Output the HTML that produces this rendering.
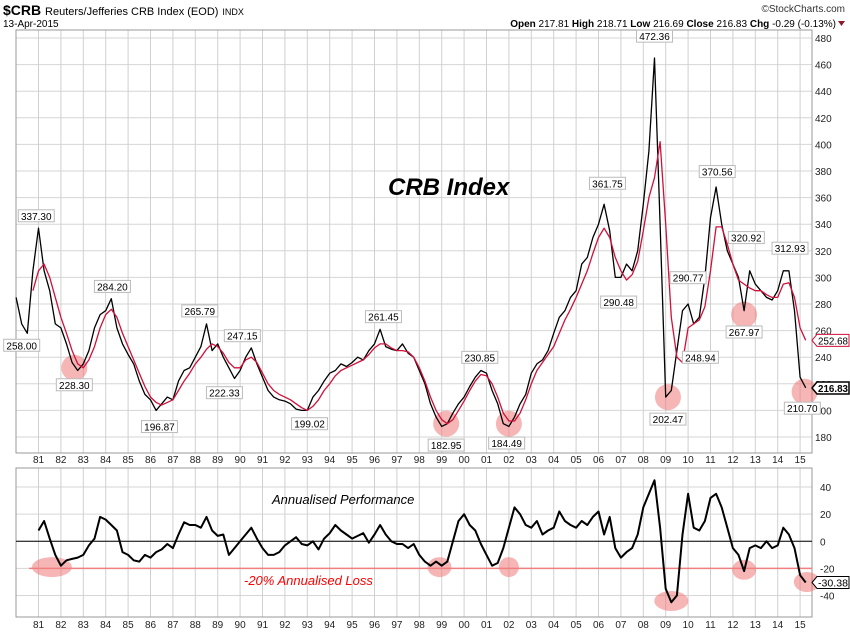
<!DOCTYPE html>
<html><head><meta charset="utf-8"><style>
body{margin:0;background:#fff;}
svg{display:block;font-family:"Liberation Sans",sans-serif;}
</style></head><body>
<svg id="chart" width="850" height="633" viewBox="0 0 850 633">
<text x="3" y="15" font-size="14" font-weight="bold">$CRB <tspan font-size="11" font-weight="normal">Reuters/Jefferies CRB Index (EOD)</tspan> <tspan font-size="9" font-weight="normal">INDX</tspan></text>
<text x="3" y="27" font-size="10">13-Apr-2015</text>
<text x="845" y="12" font-size="10" text-anchor="end" fill="#333">©StockCharts.com</text>
<text x="836" y="27" font-size="10" text-anchor="end"><tspan font-weight="bold">Open</tspan> 217.81 <tspan font-weight="bold">High</tspan> 218.71 <tspan font-weight="bold">Low</tspan> 216.69 <tspan font-weight="bold">Close</tspan> 216.83 <tspan font-weight="bold">Chg</tspan> -0.29 (-0.13%)</text>
<path d="M838 21 L845 21 L841.5 26 Z" fill="#8b1a2b"/>
<g id="grid"></g>
<g id="marks"></g>
</svg>
<script>
var priceStart = 1980.0;
var priceValues = [285,265,258,305, 337,305,290,265, 262,250,236,230, 235,245,262,272, 275,284,262,250, 242,235,222,212, 208,200,205,210, 208,222,230,232, 240,248,265,245, 250,240,232,224, 230,240,247,235, 225,215,210,208, 207,205,201,200, 200,210,215,222, 228,230,235,233, 236,240,238,245, 250,261,248,246, 245,250,243,240, 230,220,205,195, 188,190,198,205, 210,218,225,230, 228,215,205,190, 188,195,205,212, 228,235,238,245, 258,270,275,285, 290,310,315,330, 340,355,335,300, 300,310,305,320, 355,395,465,340, 210,215,245,275, 280,265,270,300, 345,368,340,320, 310,300,275,305, 295,290,285,283, 290,305,305,275, 225,217];
var maStart = 1980.75;
var maValues = [290, 305,310,300,285, 270,258,245,235, 232,238,248,262, 272,276,270,258, 248,238,228,218, 210,206,204,206, 208,215,222,228, 235,240,246,250, 248,243,236,232, 232,238,240,236, 228,220,215,212, 210,208,205,202, 200,203,208,215, 220,226,230,232, 234,236,238,242, 247,250,250,247, 245,245,244,240, 232,222,210,200, 193,190,193,200, 207,215,222,227, 226,220,210,198, 192,192,198,208, 220,230,236,242, 248,258,268,276, 285,295,305,318, 330,337,330,315, 305,298,302,312, 335,360,375,402, 340,270,240,236, 262,265,268,278, 305,338,338,325, 310,298,295,292, 290,290,287,285, 285,295,296,285, 262,252.68];
var perfStart = 1981.0;
var perfValues = [8,15,2,-10, -18,-14,-13,-12, -10,-3,2,18, 16,12,8,-8, -10,-14,-15,-10, -12,-8,-6,-2, -5,5,14,12, 12,10,18,8, 4,5,-10,-5, 0,5,10,2, -5,-10,-10,-8, -3,0,3,-2, -3,0,-6,2, 6,12,8,5, 2,4,6,-1, 5,12,5,0, -2,-2,-5,-2, -10,-15,-18,-15, -18,-15,0,15, 20,12,8,-2, -10,-18,-16,-5, 10,25,20,12, 10,15,5,8, 10,22,15,12, 10,15,12,18, 22,5,18,-5, -12,-8,-5,5, 25,35,45,10, -35,-45,-40,5, 35,10,8,15, 32,35,25,10, -5,-10,-22,-5, -3,-5,0,-5, -3,10,5,-5, -25,-30.38];
var priceTicks = [480,460,440,420,400,380,360,340,320,300,280,260,240,220,200,180];
var perfTicks = [40,20,0,-20,-40];
var yearLabels = ["81","82","83","84","85","86","87","88","89","90","91","92","93","94","95","96","97","98","99","00","01","02","03","04","05","06","07","08","09","10","11","12","13","14","15"];
var peakLabels = [["337.30",1980.9,337.3,1],["258.00",1980.25,258,0],["228.30",1982.6,228.3,0],["284.20",1984.3,284.2,1],["196.87",1986.4,196.87,0],["265.79",1988.2,265.79,1],["247.15",1990.1,247.15,1],["222.33",1989.3,222.33,0],["199.02",1993.1,199.02,0],["261.45",1996.4,261.45,1],["182.95",1999.2,182.95,0],["230.85",2000.7,230.85,1],["184.49",2001.9,184.49,0],["361.75",2006.4,361.75,1],["290.48",2006.9,290.48,0],["472.36",2008.5,472.36,1],["202.47",2009.1,202.47,0],["290.77",2010.0,290.77,1],["248.94",2010.55,248.94,0],["370.56",2011.3,370.56,1],["320.92",2012.6,320.92,1],["267.97",2012.5,267.97,0],["312.93",2014.55,312.93,1],["210.70",2015.1,210.7,0]];
var priceCircles = [[1982.6,232],[1999.2,190],[2002.0,190],[2009.1,210],[2012.5,272],[2015.2,214]];
var perfCircles = [[1981.6,-19,20],[1998.9,-19,12],[2002.0,-19,10],[2009.25,-44,17],[2012.5,-21,12],[2015.3,-30,13]];

var NS="http://www.w3.org/2000/svg";
function x(t){return 38.5+(t-1981)*22.4;}
function yP(v){return 38+(480-v)*1.33;}
function yB(v){return 541.3-v*1.356;}
function mk(tag,attrs,parent){var e=document.createElementNS(NS,tag);for(var k in attrs)e.setAttribute(k,attrs[k]);parent.appendChild(e);return e;}
var grid=document.getElementById('grid'),marks=document.getElementById('marks');
var P={l:16,r:812,t:30,b:453},B={t:468,b:617};
priceTicks.forEach(function(v){
  var l=mk('line',{x1:P.l,x2:P.r,y1:yP(v),y2:yP(v),stroke:'#d6d6d6','stroke-width':1},grid);
  
  
  var t=mk('text',{x:815,y:yP(v)+4,'font-size':10,fill:'#222'},grid);t.textContent=v;
  
  
});
perfTicks.forEach(function(v){
  var l=mk('line',{x1:P.l,x2:P.r,y1:yB(v),y2:yB(v),stroke:'#d6d6d6','stroke-width':1},grid);
  
  
  var t=mk('text',{x:820,y:yB(v)+4,'font-size':10,fill:'#222'},grid);t.textContent=v;
  
  
});
yearLabels.forEach(function(s,i){
  var xx=x(1981+i);
  [[P.t,P.b],[B.t,B.b]].forEach(function(r){
    var l=mk('line',{x1:xx,x2:xx,y1:r[0],y2:r[1],stroke:'#d0d0d0','stroke-width':1},grid);
    
    
  });
  [463,628].forEach(function(yy){
    var t=mk('text',{x:xx,y:yy,'font-size':10,'text-anchor':'middle',fill:'#222'},grid);t.textContent=s;
    
    
  });
});
var f1=mk('rect',{x:P.l,y:P.t,width:P.r-P.l,height:P.b-P.t,fill:'none',stroke:'#999'},grid);


var f2=mk('rect',{x:P.l,y:B.t,width:P.r-P.l,height:B.b-B.t,fill:'none',stroke:'#999'},grid);


priceCircles.forEach(function(c){
  var e=mk('circle',{cx:x(c[0]),cy:yP(c[1]),r:13,fill:'rgba(240,110,110,0.5)'},marks);
  
  
});
perfCircles.forEach(function(c){
  var e=mk('ellipse',{cx:x(c[0]),cy:yB(c[1]),rx:c[2],ry:10,fill:'rgba(240,110,110,0.5)'},marks);
  
  
});
var z=mk('line',{x1:P.l,x2:P.r,y1:yB(0),y2:yB(0),stroke:'#000','stroke-width':1},marks);


var m20=mk('line',{x1:29,x2:P.r,y1:yB(-20),y2:yB(-20),stroke:'#f08080','stroke-width':1.5},marks);


function path(start,vals,yf){return vals.map(function(v,i){return (i?'L':'M')+x(start+i*0.25).toFixed(1)+' '+yf(v).toFixed(1);}).join(' ');}
var pl=mk('path',{d:path(priceStart,priceValues,yP),fill:'none',stroke:'#000','stroke-width':1.3,'stroke-linejoin':'round'},marks);


var ml=mk('path',{d:path(maStart,maValues,yP),fill:'none',stroke:'#d0103a','stroke-width':1.3,'stroke-linejoin':'round'},marks);


var pf=mk('path',{d:path(perfStart,perfValues,yB),fill:'none',stroke:'#000','stroke-width':2,'stroke-linejoin':'round'},marks);


peakLabels.forEach(function(p){
  var cx=x(p[1]),py=yP(p[2]),w=36,h=12;
  var by=p[3]?py-18:py+6;
  var r=mk('rect',{x:cx-w/2,y:by,width:w,height:h,fill:'#fff',stroke:'#bbb'},marks);
  
  
  var t=mk('text',{x:cx,y:by+10,'font-size':10,'text-anchor':'middle',fill:'#000'},marks);t.textContent=p[0];
  
  
});
function tag(txt,yy,col,bold,name){
  var g=mk('path',{d:'M812 '+yy+' L817 '+(yy-6)+' L849 '+(yy-6)+' L849 '+(yy+6)+' L817 '+(yy+6)+' Z',fill:'#fff',stroke:col,'stroke-width':bold?1.5:1},marks);
  
  
  var t=mk('text',{x:818,y:yy+4,'font-size':10,'font-weight':bold?'bold':'normal',fill:'#000',textLength:30,lengthAdjust:'spacingAndGlyphs'},marks);t.textContent=txt;
  
  
}
tag('252.68',yP(252.68),'#d0103a',false,'ma-last-value');
tag('216.83',yP(216.83),'#000',true,'close-last-value');
tag('-30.38',yB(-30.38),'#000',false,'perf-last-value');
var t1=mk('text',{x:388,y:195,'font-size':24,'font-style':'italic','font-weight':'bold',fill:'#000'},marks);t1.textContent='CRB Index';


var t2=mk('text',{x:272,y:504,'font-size':13,'font-style':'italic',fill:'#000'},marks);t2.textContent='Annualised Performance';


var t3=mk('text',{x:244,y:585,'font-size':13,'font-style':'italic',fill:'#f00'},marks);t3.textContent='-20% Annualised Loss';


</script>
</body></html>
